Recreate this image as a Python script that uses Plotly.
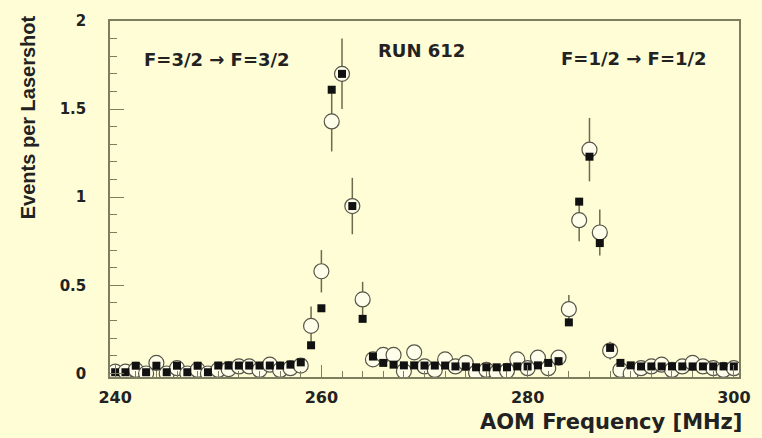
import plotly.graph_objects as go

freq = list(range(240, 301))

circle_vals = [0.01, 0.01, 0.02, 0.0, 0.06, 0.0, 0.03, 0.0, 0.02, 0.0,
               0.02, 0.025, 0.04, 0.04, 0.02, 0.05, 0.02, 0.03, 0.045, 0.27,
               0.58, 1.43, 1.70, 0.95, 0.42, 0.08, 0.105, 0.105, 0.013, 0.12,
               0.04, 0.02, 0.08, 0.04, 0.06, 0.005, 0.02, 0.005, 0.015, 0.08,
               0.03, 0.09, 0.03, 0.09, 0.365, 0.87, 1.27, 0.80, 0.13, 0.02,
               0.0, 0.03, 0.04, 0.05, 0.02, 0.04, 0.06, 0.04, 0.03, 0.02, 0.03]

circle_errs = [0.03] * 19 + [0.11, 0.12, 0.17, 0.20, 0.16, 0.10, 0.04, 0.04, 0.04] + \
              [0.03] * 16 + [0.08, 0.12, 0.18, 0.13, 0.05] + [0.03] * 12

square_vals = [0.007, 0.007, 0.044, 0.007, 0.044, 0.007, 0.044, 0.007, 0.044, 0.007,
               0.045, 0.045, 0.045, 0.045, 0.045, 0.045, 0.045, 0.05, 0.063, 0.16,
               0.37, 1.61, 1.70, 0.95, 0.31, 0.096, 0.06, 0.05, 0.046, 0.046,
               0.045, 0.045, 0.045, 0.04, 0.04, 0.035, 0.035, 0.035, 0.035, 0.04,
               0.04, 0.046, 0.06, 0.07, 0.29, 0.975, 1.23, 0.74, 0.145, 0.06,
               0.046, 0.04, 0.04, 0.04, 0.04, 0.04, 0.04, 0.04, 0.04, 0.04, 0.04]

x_tick_vals = [240, 260, 280, 300]
y_tick_vals = [0, 0.5, 1, 1.5, 2]
y_tick_text = ["0", "0.5", "1", "1.5", "2"]

BG = "#FFFDD5"
AX = "#7d7d60"
FONT = "DejaVu Sans"

fig = go.Figure()
fig.add_trace(go.Scatter(
    x=freq, y=circle_vals, mode="markers",
    marker=dict(symbol="circle", size=15, color="#FFFEEA",
                line=dict(color="#555548", width=1.2)),
    error_y=dict(type="data", array=circle_errs, visible=True,
                 color="#6b6b50", thickness=1.5, width=0),
    showlegend=False))
fig.add_trace(go.Scatter(
    x=freq, y=square_vals, mode="markers",
    marker=dict(symbol="square", size=8, color="#111111"),
    showlegend=False))

fig.update_layout(
    width=762, height=438,
    paper_bgcolor=BG, plot_bgcolor=BG,
    margin=dict(l=110, r=15, t=13, b=61),
    xaxis=dict(range=[239.5, 300.5], tickvals=x_tick_vals,
               ticks="inside", ticklen=12, tickcolor=AX, tickwidth=1,
               showline=True, linecolor=AX, linewidth=1.5, mirror=True,
               showgrid=False, zeroline=False,
               tickfont=dict(family=FONT, size=16, color="#222", weight="bold"),
               ticklabelstandoff=5,
               minor=dict(dtick=2, ticks="inside", ticklen=6, tickcolor=AX, showgrid=False)),
    yaxis=dict(range=[-0.02, 2.0], tickvals=y_tick_vals, ticktext=y_tick_text,
               ticks="inside", ticklen=14, tickcolor=AX, tickwidth=1,
               showline=True, linecolor=AX, linewidth=1.5, mirror=True,
               showgrid=False, zeroline=False,
               tickfont=dict(family=FONT, size=15, color="#222", weight="bold"),
               ticklabelstandoff=19,
               minor=dict(dtick=0.1, ticks="inside", ticklen=7, tickcolor=AX, showgrid=False)),
)

fig.add_annotation(x=249.9, y=1.78, xref="x", yref="y", text="F=3/2 → F=3/2",
                   showarrow=False, font=dict(family=FONT, size=18, color="#222", weight="bold"))
fig.add_annotation(x=269.7, y=1.83, xref="x", yref="y", text="RUN 612",
                   showarrow=False, font=dict(family=FONT, size=18, color="#222", weight="bold"))
fig.add_annotation(x=290.3, y=1.79, xref="x", yref="y", text="F=1/2 → F=1/2",
                   showarrow=False, font=dict(family=FONT, size=18, color="#222", weight="bold"))
fig.add_annotation(x=1, y=-46 / 364, xref="paper", yref="paper", xanchor="right", yanchor="middle",
                   xshift=5, text="AOM Frequency [MHz]", showarrow=False,
                   font=dict(family=FONT, size=21, color="#222", weight="bold"))
fig.add_annotation(x=(27 - 110) / 637, y=(377 - 5) / 364, xref="paper", yref="paper",
                   xanchor="center", yanchor="top", textangle=-90,
                   text="Events per Lasershot", showarrow=False,
                   font=dict(family="Liberation Sans", size=20, color="#222", weight="bold"))

fig.write_html("out.html", config={"displayModeBar": False},
               post_script="document.body.style.margin='0';document.body.style.background='" + BG + "';")
